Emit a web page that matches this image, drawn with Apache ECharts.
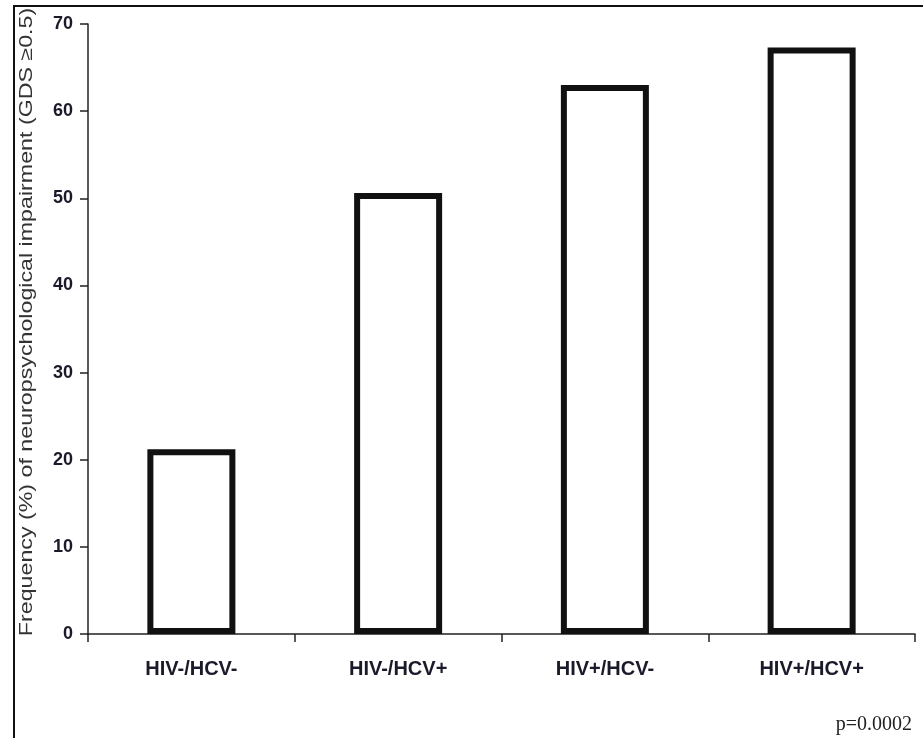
<!DOCTYPE html>
<html>
<head>
<meta charset="utf-8">
<style>
  html, body { margin: 0; padding: 0; background: #fff; }
  #chart { width: 923px; height: 738px; }
</style>
<script src="https://cdn.jsdelivr.net/npm/echarts@6/dist/echarts.min.js"></script>
</head>
<body>
<div id="chart"></div>
<script>
// groups and impairment frequency (%)
var groups = ['HIV-/HCV-', 'HIV-/HCV+', 'HIV+/HCV-', 'HIV+/HCV+'];
var frequency = [21.2, 50.6, 63, 67.3];
var yTicks = [0, 10, 20, 30, 40, 50, 60, 70];

var sans = '"Liberation Sans", Arial, sans-serif';

var myChart = echarts.init(document.getElementById('chart'));
var option = {
    animation: false,
    backgroundColor: '#fff',
    grid: { left: 88, right: 8, top: 24, bottom: 104, containLabel: false },
    xAxis: {
        type: 'category',
        data: groups,
        axisLine: { lineStyle: { color: '#222', width: 1.5 } },
        axisTick: { show: true, length: 8, lineStyle: { color: '#222', width: 1.5 } },
        axisLabel: {
            margin: 25,
            color: '#1a1a2a',
            fontFamily: sans,
            fontWeight: 'bold',
            fontSize: 20
        }
    },
    yAxis: {
        type: 'value',
        min: 0,
        max: 70,
        interval: 10,
        splitLine: { show: false },
        axisLine: { show: true, lineStyle: { color: '#222', width: 1.5 } },
        axisTick: { show: true, length: 8, lineStyle: { color: '#222', width: 1.5 } },
        axisLabel: {
            margin: 15,
            color: '#1a1a2a',
            fontFamily: sans,
            fontWeight: 'bold',
            fontSize: 18,
            formatter: function (v) { return yTicks.indexOf(v) >= 0 ? String(v) : ''; }
        }
    },
    series: [{
        type: 'bar',
        data: frequency,
        barWidth: 88,
        itemStyle: { color: '#fff', borderColor: '#111', borderWidth: 6 }
    }],
    graphic: [
        {
            type: 'rect',
            shape: { x: 14, y: 6, width: 1200, height: 1200 },
            style: { fill: null, stroke: '#111', lineWidth: 2 },
            silent: true
        },
        {
            // y-axis title, stretched along its length like the scanned original
            type: 'text',
            x: 27,
            y: 322,
            rotation: Math.PI / 2,
            scaleX: 1.29,
            style: {
                text: 'Frequency (%) of neuropsychological impairment (GDS \u22650.5)',
                fill: '#333',
                font: '18px "Liberation Sans", Arial, sans-serif',
                align: 'center',
                verticalAlign: 'middle'
            }
        },
        {
            type: 'text',
            x: 912,
            y: 725,
            style: {
                text: 'p=0.0002',
                fill: '#222',
                font: '20px "Liberation Serif", "Times New Roman", serif',
                align: 'right',
                verticalAlign: 'middle'
            }
        }
    ]
};
myChart.setOption(option);
</script>
</body>
</html>
